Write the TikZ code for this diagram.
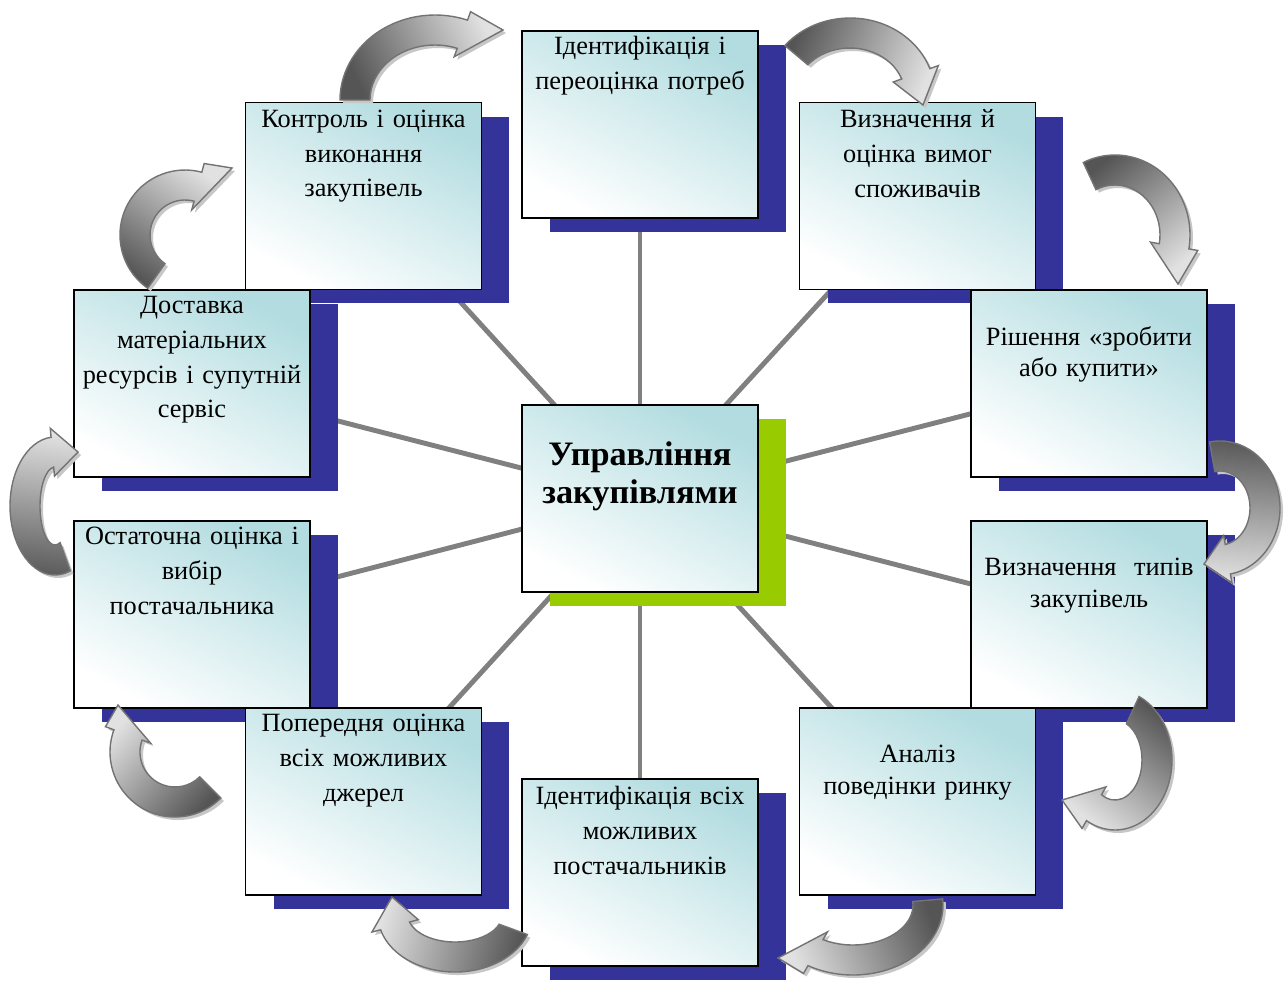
\documentclass[tikz,border=0pt]{standalone}
\usepackage{fontspec}
\setmainfont{Liberation Serif}
\usepackage{tikz}
\usetikzlibrary{calc}
\definecolor{shadownavy}{RGB}{51,51,153}
\definecolor{leafgreen}{RGB}{153,204,0}
\definecolor{boxteal}{RGB}{178,220,224}
\definecolor{spokegray}{RGB}{128,128,128}
\definecolor{arrdark}{RGB}{85,85,85}
\definecolor{arrlight}{RGB}{225,225,225}
\pgfdeclarelayer{spokes}
\pgfdeclarelayer{shadows}
\pgfsetlayers{spokes,shadows,main}
\tikzstyle{stagebox} = [draw=black, line width=1pt, minimum width=4.72cm, minimum height=3.74cm, inner sep=0pt, outer sep=0pt, top color=boxteal, middle color=boxteal!12!white, bottom color=white, shading angle=-28]
\tikzstyle{stagetext} = [anchor=north, inner sep=0pt, text width=4.6cm, align=center, font=\fontsize{15}{19.8}\selectfont]
\tikzstyle{spoke} = [draw=spokegray, line width=2.8pt]
% curved 3d-like arrow: centre, radii, tail angle, head angle, tip
\newcommand{\bentarrow}[8]{%
  \pgfmathsetmacro{\tailx}{#1+#3*cos(#5)}%
  \pgfmathsetmacro{\taily}{#2+#4*sin(#5)}%
  \pgfmathsetmacro{\shang}{atan2(#8-\taily,\tailx-#7)-90}%
  \pgfmathsetmacro{\tipx}{#7-#1}%
  \pgfmathsetmacro{\tipy}{#8-#2}%
  \def\bendpath{(#5:{#3+15} and {#4+15}) arc[start angle=#5, end angle=#6, x radius=#3+15, y radius=#4+15] -- (#6:{#3+24} and {#4+24}) -- (\tipx,\tipy) -- (#6:{#3-24} and {#4-24}) -- (#6:{#3-15} and {#4-15}) arc[start angle=#6, end angle=#5, x radius=#3-15, y radius=#4-15] -- cycle}%
  \fill[black!22, shift={(#1+3,#2+3)}] \bendpath;
  \shade[shift={(#1,#2)}, draw=black!55, line width=0.8pt, top color=arrdark, middle color=arrdark!60!arrlight, bottom color=arrlight, shading angle=\shang] \bendpath;
}

\begin{document}
\begin{tikzpicture}[x=0.02cm, y=-0.02cm]
    \useasboundingbox (0,0) rectangle (1288,985);
    % boxes
    \node[stagebox] (mgmt) at (640,498.5) {};
    \node[stagebox] (needs) at (640,124.5) {};
    \node[stagebox] (reqs) at (917.5,196) {};
    \node[stagebox] (make) at (1089,383.5) {};
    \node[stagebox] (types) at (1089,614.5) {};
    \node[stagebox] (market) at (917.5,801.5) {};
    \node[stagebox] (suppliers) at (640,872.5) {};
    \node[stagebox] (sources) at (363.5,801.5) {};
    \node[stagebox] (choice) at (192,614.5) {};
    \node[stagebox] (delivery) at (192,383.5) {};
    \node[stagebox] (control) at (363.5,196) {};
    % shadows
    \begin{pgfonlayer}{shadows}
    \foreach \b in {needs,reqs,make,types,market,suppliers,sources,choice,delivery,control}
        \fill[shadownavy] ($(\b.south west)+(28,14)$) rectangle ($(\b.north east)+(28,14)$);
    \fill[leafgreen] ($(mgmt.south west)+(28,14)$) rectangle ($(mgmt.north east)+(28,14)$);
    \end{pgfonlayer}
    % spokes
    \begin{pgfonlayer}{spokes}
    \foreach \b in {needs,reqs,make,types,market,suppliers,sources,choice,delivery,control}
        \draw[spoke] (mgmt.center) -- (\b.center);
    \end{pgfonlayer}
    % texts
    \node[stagetext, font=\bfseries\fontsize{19.5}{21.8}\selectfont] (mgmttxt) at ($(mgmt.north)+(0,36)$) {Управління\\закупівлями};
    \node[stagetext] (needstxt) at ($(needs.north)+(0,5)$) {Ідентифікація і\\переоцінка потреб};
    \node[stagetext] (reqstxt) at ($(reqs.north)+(0,7)$) {Визначення й\\оцінка вимог\\споживачів};
    \node[stagetext, font=\fontsize{15}{18}\selectfont] (maketxt) at ($(make.north)+(0,36)$) {Рішення «зробити\\або купити»};
    \node[stagetext, font=\fontsize{15}{18}\selectfont] (typestxt) at ($(types.north)+(0,37)$) {Визначення\ \ типів\\закупівель};
    \node[stagetext, font=\fontsize{15}{18}\selectfont] (markettxt) at ($(market.north)+(0,37)$) {Аналіз\\поведінки ринку};
    \node[stagetext] (supplierstxt) at ($(suppliers.north)+(0,7)$) {Ідентифікація всіх\\можливих\\постачальників};
    \node[stagetext] (sourcestxt) at ($(sources.north)+(0,6)$) {Попередня оцінка\\всіх можливих\\джерел};
    \node[stagetext] (choicetxt) at ($(choice.north)+(0,6)$) {Остаточна оцінка і\\вибір\\постачальника};
    \node[stagetext] (deliverytxt) at ($(delivery.north)+(0,6)$) {Доставка\\матеріальних\\ресурсів і супутній\\сервіс};
    \node[stagetext] (controltxt) at ($(control.north)+(0,7)$) {Контроль і оцінка\\виконання\\закупівель};
    % cycle arrows
    \bentarrow{435}{100}{80}{70}{180}{290}{503}{30}
    \bentarrow{850}{95}{70}{62}{220}{340}{923}{105}
    \bentarrow{1115}{235}{60}{65}{245}{370}{1178}{284}
    \bentarrow{1220}{508}{45}{52}{260}{440}{1204}{564}
    \bentarrow{1115}{760}{42}{55}{295}{480}{1062}{800}
    \bentarrow{853}{905}{75}{55}{355}{480}{778}{958}
    \bentarrow{455}{915}{62}{42}{20}{165}{392}{897}
    \bentarrow{175}{752}{50}{50}{45}{200}{118}{705}
    \bentarrow{55}{506}{30}{54}{70}{265}{78}{452}
    \bentarrow{185}{235}{50}{50}{125}{285}{232}{168}
\end{tikzpicture}
\end{document}
